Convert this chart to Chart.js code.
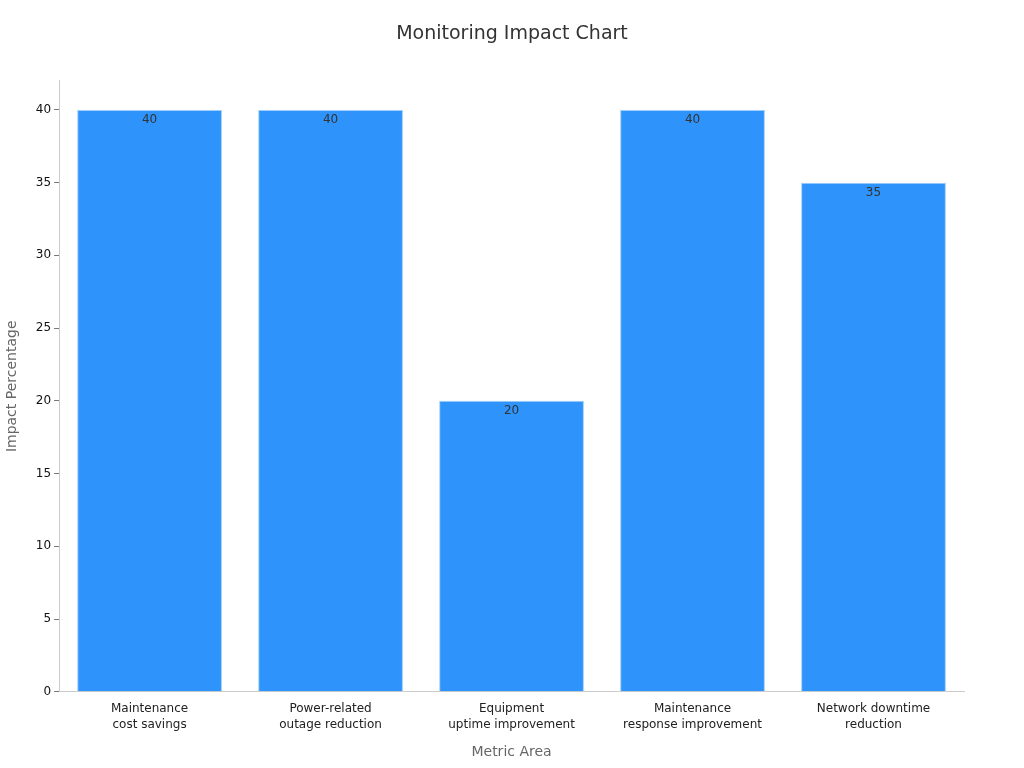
<!DOCTYPE html>
<html>
<head>
<meta charset="utf-8">
<script src="https://cdn.jsdelivr.net/npm/chart.js@4/dist/chart.umd.min.js"></script>
<style>
  html, body { margin: 0; padding: 0; background: #fff; }
  #wrap { width: 1024px; height: 768px; }
</style>
</head>
<body>
<div id="wrap"><canvas id="c" width="1024" height="768"></canvas></div>
<script>
// chart data
const categories = [
    [ 'Maintenance', 'cost savings' ],
    [ 'Power-related', 'outage reduction' ],
    [ 'Equipment', 'uptime improvement' ],
    [ 'Maintenance', 'response improvement' ],
    [ 'Network downtime', 'reduction' ],
];
const impactValues = [ 40, 40, 20, 40, 35 ];
const yTicks = [ 0, 5, 10, 15, 20, 25, 30, 35, 40 ];
const chartTitle = 'Monitoring Impact Chart';

const FONT = '"DejaVu Sans", "Noto Sans", sans-serif';

// value labels just under each bar's top, and the title centred on the page
const barLabels = {
    id : 'barLabels',
    afterDatasetsDraw( chart )
    {
        const ctx = chart.ctx;
        const meta = chart.getDatasetMeta( 0 );
        ctx.save();
        ctx.font = '12px ' + FONT;
        ctx.fillStyle = '#333';
        ctx.textAlign = 'center';
        ctx.textBaseline = 'top';
        meta.data.forEach( ( bar, i ) =>
        {
            ctx.fillText( String( impactValues[ i ] ), bar.x, bar.y + 4 );
        });
        ctx.font = '19px ' + FONT;
        ctx.textBaseline = 'middle';
        ctx.fillText( chartTitle, chart.width / 2, 34 );
        ctx.restore();
    }
};

new Chart( document.getElementById( 'c' ), {
    type : 'bar',
    data : {
        labels : categories,
        datasets : [{
            data : impactValues,
            backgroundColor : '#2E93FA',
            borderColor : '#9fcdf8',
            borderWidth : 1,
            barPercentage : 0.8,
            categoryPercentage : 1,
        }],
    },
    options : {
        responsive : false,
        animation : false,
        layout : { padding : { left : 0, right : 60, top : 0, bottom : 3 } },
        plugins : {
            legend : { display : false },
            tooltip : { enabled : false },
            title : {
                display : true,
                text : chartTitle,
                color : 'rgba(0,0,0,0)',
                font : { family : FONT, size : 19, weight : 'normal' },
                padding : { top : 24, bottom : 34 },
            },
        },
        scales : {
            x : {
                grid : { display : false },
                border : { color : '#ccc' },
                ticks : { color : '#222', font : { family : FONT, size : 12, lineHeight : 1.35 }, padding : 1 },
                title : {
                    display : true, text : 'Metric Area', color : '#666',
                    font : { family : FONT, size : 14 }, padding : { top : 10 },
                },
            },
            y : {
                min : 0,
                max : 42,
                afterBuildTicks : ( axis ) => { axis.ticks = yTicks.map( v => ( { value : v } ) ); },
                grid : { display : true, drawOnChartArea : false, drawTicks : true, tickLength : 5, color : '#777' },
                border : { color : '#ccc' },
                ticks : { color : '#111', font : { family : FONT, size : 12 }, padding : 3 },
                title : {
                    display : true, text : 'Impact Percentage', color : '#666',
                    font : { family : FONT, size : 14 }, padding : { bottom : 12 },
                },
            },
        },
    },
    plugins : [ barLabels ],
});
</script>
</body>
</html>
